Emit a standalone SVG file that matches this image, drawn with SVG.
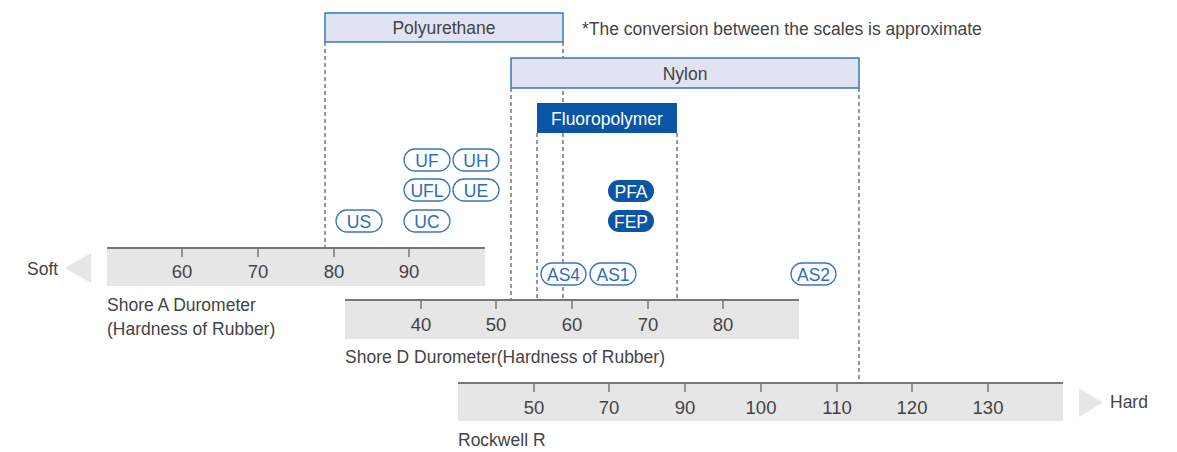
<svg xmlns="http://www.w3.org/2000/svg" width="1177" height="452" viewBox="0 0 1177 452">
<style>
text{font-family:"Liberation Sans",Arial,sans-serif;fill:#444;font-size:17.5px}
.c{text-anchor:middle}
.n{font-size:18.5px;text-anchor:middle}
.bar{fill:#e6e6e7}
.axis{stroke:#777;stroke-width:2}
.tick{stroke:#777;stroke-width:1.5}
.dash{stroke:#777;stroke-width:1.5;stroke-dasharray:4 3;fill:none}
.lbox{fill:#e0e3f1;stroke:#3a76bf;stroke-width:1.5}
.dbox{fill:#0a55a5}
.pill{fill:#fff;stroke:#3a76bf;stroke-width:1.3}
.pt{fill:#2d6db8;font-size:17.5px;text-anchor:middle}
.dpill{fill:#0a55a5}
.dt{fill:#fff;font-size:17.5px;text-anchor:middle}
.tri{fill:#e6e6e7}
</style>
<g id="connectors">
<line class="dash" x1="325" y1="42" x2="325" y2="248"/>
<line class="dash" x1="563" y1="42" x2="563" y2="300"/>
<line class="dash" x1="511" y1="88" x2="511" y2="300"/>
<line class="dash" x1="537" y1="133" x2="537" y2="300"/>
<line class="dash" x1="677" y1="133" x2="677" y2="300"/>
<line class="dash" x1="859" y1="88" x2="859" y2="383"/>
</g>
<g id="polyurethane">
<rect class="lbox" x="325" y="13" width="238" height="29"/>
<text class="c" x="444" y="34">Polyurethane</text>
</g>
<text id="note" x="582" y="35">*The conversion between the scales is approximate</text>
<g id="nylon">
<rect class="lbox" x="511" y="58" width="348" height="30"/>
<text class="c" x="685" y="80">Nylon</text>
</g>
<g id="fluoropolymer">
<rect class="dbox" x="537" y="103" width="140" height="30"/>
<text class="dt" x="607" y="125">Fluoropolymer</text>
</g>
<g id="pill-uf"><rect class="pill" x="404" y="149" width="46" height="22" rx="11"/><text class="pt" x="427" y="166.5">UF</text></g>
<g id="pill-uh"><rect class="pill" x="453" y="149" width="46" height="22" rx="11"/><text class="pt" x="476" y="166.5">UH</text></g>
<g id="pill-ufl"><rect class="pill" x="404" y="179" width="46" height="22" rx="11"/><text class="pt" x="427" y="196.5">UFL</text></g>
<g id="pill-ue"><rect class="pill" x="453" y="179" width="46" height="22" rx="11"/><text class="pt" x="476" y="196.5">UE</text></g>
<g id="pill-us"><rect class="pill" x="336" y="210" width="46" height="22" rx="11"/><text class="pt" x="359" y="227.5">US</text></g>
<g id="pill-uc"><rect class="pill" x="404" y="210" width="46" height="22" rx="11"/><text class="pt" x="427" y="227.5">UC</text></g>
<g id="pill-pfa"><rect class="dpill" x="608" y="180" width="46" height="22" rx="11"/><text class="dt" x="631" y="197.5">PFA</text></g>
<g id="pill-fep"><rect class="dpill" x="608" y="210" width="46" height="22" rx="11"/><text class="dt" x="631" y="227.5">FEP</text></g>
<g id="pill-as4"><rect class="pill" x="541" y="263" width="45" height="22" rx="11"/><text class="pt" x="563.5" y="280.5">AS4</text></g>
<g id="pill-as1"><rect class="pill" x="590" y="263" width="46" height="22" rx="11"/><text class="pt" x="613" y="280.5">AS1</text></g>
<g id="pill-as2"><rect class="pill" x="791" y="263" width="45" height="22" rx="11"/><text class="pt" x="813.5" y="280.5">AS2</text></g>
<g id="shore-a">
<rect class="bar" x="107" y="248" width="378" height="38"/>
<line class="axis" x1="107" y1="248" x2="485" y2="248"/>
<g class="tick"><line x1="182" y1="248" x2="182" y2="257"/><line x1="258" y1="248" x2="258" y2="257"/><line x1="334" y1="248" x2="334" y2="257"/><line x1="409" y1="248" x2="409" y2="257"/></g>
<text class="n" x="182" y="278">60</text><text class="n" x="258" y="278">70</text><text class="n" x="334" y="278">80</text><text class="n" x="409" y="278">90</text>
<text x="107" y="311">Shore A Durometer</text>
<text x="107" y="335">(Hardness of Rubber)</text>
</g>
<g id="soft">
<polygon class="tri" points="91,253 91,283 65,268"/>
<text x="27" y="275">Soft</text>
</g>
<g id="shore-d">
<rect class="bar" x="345" y="300" width="454" height="39"/>
<line class="axis" x1="345" y1="300" x2="799" y2="300"/>
<g class="tick"><line x1="421" y1="300" x2="421" y2="309"/><line x1="496" y1="300" x2="496" y2="309"/><line x1="572" y1="300" x2="572" y2="309"/><line x1="648" y1="300" x2="648" y2="309"/><line x1="723" y1="300" x2="723" y2="309"/></g>
<text class="n" x="421" y="331">40</text><text class="n" x="496" y="331">50</text><text class="n" x="572" y="331">60</text><text class="n" x="648" y="331">70</text><text class="n" x="723" y="331">80</text>
<text x="345" y="363">Shore D Durometer(Hardness of Rubber)</text>
</g>
<g id="rockwell">
<rect class="bar" x="458" y="383" width="605" height="38"/>
<line class="axis" x1="458" y1="383" x2="1063" y2="383"/>
<g class="tick"><line x1="534" y1="383" x2="534" y2="392"/><line x1="609" y1="383" x2="609" y2="392"/><line x1="685" y1="383" x2="685" y2="392"/><line x1="761" y1="383" x2="761" y2="392"/><line x1="837" y1="383" x2="837" y2="392"/><line x1="912" y1="383" x2="912" y2="392"/><line x1="988" y1="383" x2="988" y2="392"/></g>
<text class="n" x="534" y="414">50</text><text class="n" x="609" y="414">70</text><text class="n" x="685" y="414">90</text><text class="n" x="761" y="414">100</text><text class="n" x="837" y="414">110</text><text class="n" x="912" y="414">120</text><text class="n" x="988" y="414">130</text>
<text x="458" y="446">Rockwell R</text>
</g>
<g id="hard">
<polygon class="tri" points="1079,388 1079,417 1103,402.5"/>
<text x="1110" y="408">Hard</text>
</g>
</svg>
